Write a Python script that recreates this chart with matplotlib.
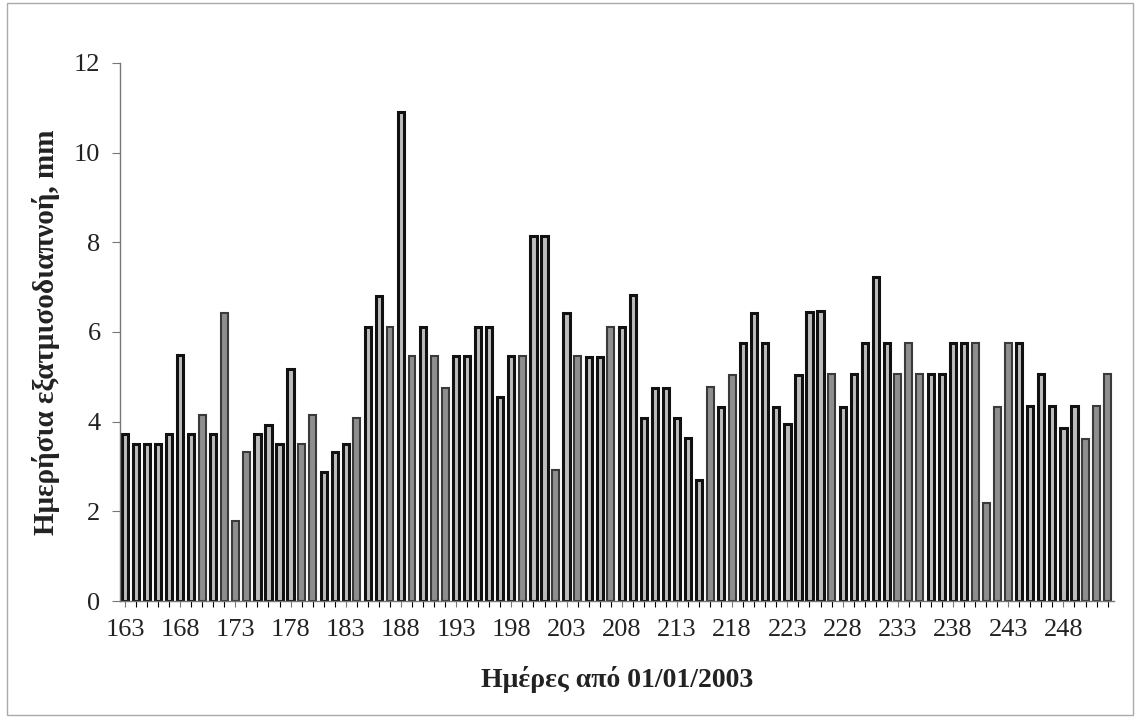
import numpy as np
import matplotlib
matplotlib.use('Agg')
from matplotlib import pyplot as plt
from matplotlib.patches import Rectangle

days = list(range(163, 253))
et = [3.73, 3.5, 3.5, 3.5, 3.73, 5.49, 3.73, 4.15, 3.73, 6.42,
      1.79, 3.32, 3.73, 3.93, 3.5, 5.18, 3.5, 4.15, 2.88, 3.32,
      3.5, 4.08, 6.12, 6.81, 6.12, 10.9, 5.46, 6.12, 5.46, 4.75,
      5.46, 5.46, 6.12, 6.12, 4.55, 5.46, 5.46, 8.15, 8.15, 2.92,
      6.42, 5.46, 5.45, 5.45, 6.12, 6.12, 6.83, 4.08, 4.75, 4.75,
      4.08, 3.63, 2.7, 4.78, 4.33, 5.04, 5.76, 6.43, 5.76, 4.33,
      3.95, 5.04, 6.45, 6.47, 5.06, 4.33, 5.06, 5.76, 7.23, 5.76,
      5.06, 5.76, 5.06, 5.06, 5.06, 5.76, 5.76, 5.76, 2.18, 4.33,
      5.76, 5.76, 4.35, 5.06, 4.35, 3.86, 4.35, 3.62, 4.35, 5.06]
# d = dark outlined bar, g = grey bar
kind = list('dddddddgdg'
            'ggddddggdd'
            'dgddgdgdgg'
            'ddddddgddg'
            'dgddgddddd'
            'dddgdgdddd'
            'ddddgddddd'
            'gggddddggg'
            'gddddddggg'
            'ddddgggddd')
tick_labels = [str(d) for d in days[::5]]

plt.rcParams['font.family'] = ['Liberation Serif', 'DejaVu Serif']

fig = plt.figure(figsize=(11.35, 7.19), dpi=100)
ax = fig.add_axes([0.1057, 0.1641, 0.876, 0.7483])

x = np.arange(len(days))
for i in range(len(days)):
    if kind[i] == 'd':
        ax.bar(x[i], et[i], width=0.56, color='#bdbdbd', edgecolor='#111111', linewidth=2.2)
    else:
        ax.bar(x[i], et[i], width=0.62, color='#8e8e8e', edgecolor='#3a3a3a', linewidth=1.5)

ax.set_xlim(-0.45, 89.6)
ax.set_ylim(0, 12)
ax.set_yticks(range(0, 13, 2))
ax.set_xticks(x[::5])
ax.set_xticklabels(tick_labels)
ax.set_xticks(x, minor=True)
ax.tick_params(axis='both', labelsize=19, colors='#777777', labelcolor='#222222')
ax.tick_params(axis='y', length=6, width=0.8, pad=8)
ax.tick_params(axis='x', which='both', length=4, width=0.8, pad=9)

for s in ['top', 'right']:
    ax.spines[s].set_visible(False)
for s in ['left', 'bottom']:
    ax.spines[s].set_color('#777777')
    ax.spines[s].set_linewidth(1.0)

ax.set_ylabel('Ημερήσια εξατμισοδιαπνοή, mm', fontsize=21, fontweight='bold',
              color='#222222', labelpad=10)
ax.set_xlabel('Ημέρες από 01/01/2003', fontsize=20, fontweight='bold',
              color='#222222', labelpad=18)

fig.patches.append(Rectangle((0.006, 0.006), 0.992, 0.99, transform=fig.transFigure,
                             fill=False, edgecolor='#aaaaaa', linewidth=1.0))

fig.savefig('out.png', dpi=100)
